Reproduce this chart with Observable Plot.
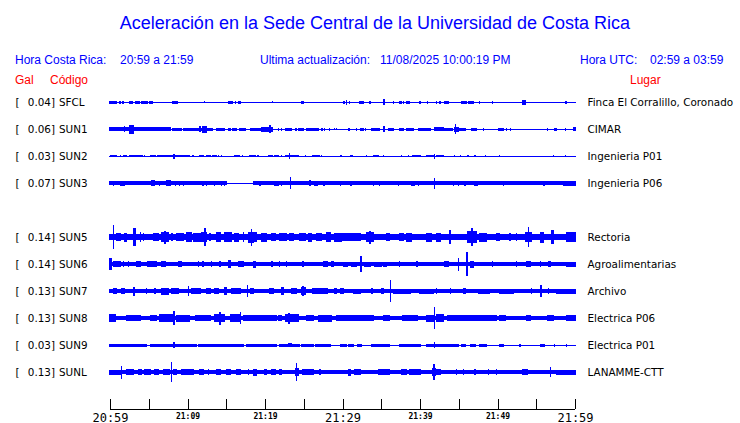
<!DOCTYPE html>
<html><head><meta charset="utf-8">
<script src="https://cdn.jsdelivr.net/npm/d3@7"></script>
<script src="https://cdn.jsdelivr.net/npm/@observablehq/plot@0.6"></script>
<style>
body{margin:0;background:#fff;}
#wrap{position:relative;width:740px;height:423px;overflow:hidden;font-family:"Liberation Sans",Arial,sans-serif;}
.t{position:absolute;white-space:nowrap;line-height:1;}
.b{color:#0000ff;font-size:12px;top:54px;}
.r{color:#ff0000;font-size:12px;top:74px;}
#chart{position:absolute;left:0;top:88px;}
</style></head><body><div id="wrap">
<div class="t" style="left:0;width:750px;text-align:center;top:14px;font-size:18px;color:#0000ff">Aceleración en la Sede Central de la Universidad de Costa Rica</div>
<div class="t b" style="left:15px">Hora Costa Rica:</div>
<div class="t b" style="left:120px">20:59 a 21:59</div>
<div class="t b" style="left:260px">Ultima actualización:</div>
<div class="t b" style="left:380px">11/08/2025 10:00:19 PM</div>
<div class="t b" style="left:580px">Hora UTC:</div>
<div class="t b" style="left:650px">02:59 a 03:59</div>
<div class="t r" style="left:15px">Gal</div>
<div class="t r" style="left:50px">Código</div>
<div class="t r" style="left:630px">Lugar</div>
<div id="chart"></div>
</div>
<script>
// ---- data ----
const codes  = ["SFCL","SUN1","SUN2","SUN3","SUN5","SUN6","SUN7","SUN8","SUN9","SUNL"];
const slots  = [0,1,2,3,5,6,7,8,9,10];   // display slot (slot 4 = SUN4, not shown)
const gal    = [0.04,0.06,0.03,0.07,0.14,0.14,0.13,0.13,0.03,0.13];
const places = ["Finca El Corralillo, Coronado","CIMAR","Ingenieria P01","Ingenieria P06","Rectoria","Agroalimentarias","Archivo","Electrica P06","Electrica P01","LANAMME-CTT"];
const baseAmp = [0.5,0.5,0.5,0.5,3.3,1.7,1.7,2.3,0.5,1.7];   // background trace half-amplitude
const tickMinutes = [0,5,10,15,20,25,30,35,40,45,50,55,60];
const labelMinutes = [0,10,20,30,40,50,60];
const tickLabels = ["20:59","21:09","21:19","21:29","21:39","21:49","21:59"];
const majorLabel = [true,false,false,true,false,false,true];

// bursts: [start minute, end minute, half-amplitude]
const burstsSFCL = [[0,0.86,1.5],[1.2,1.38,1.5],[1.64,1.72,1.5],[2.49,2.67,1.5],[2.8,2.93,1.5],[3.35,3.78,1.5],[4.09,4.86,1.5],[5.16,5.51,1.5],[8.09,8.39,1.5],[8.65,8.65,1.5],[12.17,12.17,1],[15.35,15.48,1.5],[15.74,15.74,1.5],[16.17,16.17,1.5],[16.6,16.86,1.5],[20.94,20.94,1],[24.7,24.94,1.5],[30.1,30.23,1.5],[30.54,30.54,2.5],[30.88,30.88,1.5],[32.17,32.68,1.5],[33.55,33.55,1.5],[35.35,35.4,3],[36.55,36.55,1.5],[37.33,37.55,1.5],[37.85,37.85,1.5],[38.28,38.58,1.5],[40,40,1.5],[40.94,40.94,1.5],[42.15,42.15,1.5],[42.58,42.58,1.5],[43.14,43.65,1.5],[45.38,46.03,1.5],[46.23,46.88,1.5],[47.65,47.65,1.5],[49.38,49.38,1.5],[53.2,53.3,2.5],[53.5,53.6,2.5],[58.84,58.84,1.5]];
const burstsSUN1 = [[0,7.74,1.7],[1.85,1.85,3.3],[2.5,3.0,4.5],[8.1,9.25,1.5],[9.46,10.75,1.5],[10.9,13.25,1.5],[11.6,11.6,3],[11.96,12.4,3.5],[13.7,14.0,1.5],[14.2,14.7,1.5],[15.3,15.5,1.5],[15.8,16.3,1.5],[16.7,17.5,1.5],[18.1,18.6,1.5],[18.75,19.5,1.5],[19.6,20.2,2.5],[20.2,21.0,2.5],[20.6,20.7,4],[21.7,21.7,1.5],[22.15,22.15,1.5],[22.7,23.4,1.5],[23.9,24.1,1.5],[24.3,24.7,1.5],[24.9,24.9,1.5],[25.4,26.9,1.5],[27.3,27.4,1.5],[27.7,27.7,1.5],[28.3,28.3,1.5],[29.0,29.0,1],[29.2,29.2,1],[30.75,30.9,1.5],[31.8,31.8,1.5],[32.3,32.7,1.5],[33.0,33.0,1.5],[33.8,34.0,1.5],[34.2,34.8,1.5],[35.35,35.45,3],[35.9,36.6,1.5],[37.4,37.8,1.5],[38.3,39.1,1.5],[39.8,41.3,1.5],[41.85,43.0,1.7],[43.2,44.2,1.5],[44.4,45.0,2.5],[44.6,44.6,5],[45.0,45.9,1.5],[46.7,47.3,1.5],[48.2,48.2,1.5],[50.2,50.7,1.5],[51.2,51.2,1.5],[51.7,51.7,1.5],[56.4,56.4,1.5],[57.4,57.6,1.5],[58.8,58.8,1.5],[59.8,60,2]];
const burstsSUN2 = [[0.13,0.77,1.3],[1.4,1.4,1.3],[1.8,2.15,1.3],[2.5,2.9,1.3],[3.1,3.35,1.3],[3.5,4.2,1.3],[4.4,4.4,1.3],[5.2,5.8,1.3],[6.2,6.45,1.3],[6.7,7.0,1.3],[7.2,9.8,1.3],[8.26,8.26,2.5],[10.0,10.3,1.3],[10.7,10.7,1.3],[11.6,12.1,1.3],[12.4,12.4,1.3],[12.6,12.9,1.3],[13.25,13.7,1.3],[14.0,14.0,1.3],[14.4,14.4,1],[16.1,16.7,1.3],[17.1,17.1,1.3],[18.0,18.7,1.3],[19.1,19.1,1.3],[20.4,20.9,1.3],[21.3,21.7,1.3],[22.15,22.15,1.3],[22.6,24.3,1.3],[23.2,23.2,3],[25.2,25.2,1.3],[26.2,27.0,1.3],[27.3,27.3,1.3],[29.7,29.9,1.3],[31.0,31.3,1.3],[33.1,33.1,1.3],[34.0,34.6,1.3],[35.3,35.3,1.3],[37.6,37.6,1.3],[38.5,38.5,1.3],[39.0,40.0,1.3],[40.9,41.9,1.3],[41.9,41.9,2.5],[42.1,43.0,1.3],[44.5,44.5,1.3],[45.2,45.2,1.3],[46.2,46.2,1.3],[47.1,47.1,1.3],[48.4,48.4,1.3],[50.3,50.3,1.3],[57.2,57.2,1],[58.8,58.8,1]];
const burstsSUN3 = [[0,15.05,1.7],[18.5,60,1.7],[0.43,0.43,2.5],[1.4,1.9,2.5],[2.8,3.8,2.3],[5.4,5.7,3],[6.4,6.4,2.5],[7.3,7.8,2.7],[8.4,8.4,2.5],[9.0,9.0,2.5],[9.5,9.5,2.5],[12.0,12.0,2.5],[12.5,12.5,2.5],[13.5,13.5,2.5],[14.4,14.4,2.5],[14.8,14.8,2.5],[19.35,19.35,2.5],[21.3,21.7,2.5],[22.15,22.15,2.5],[22.9,23.7,2.3],[23.3,23.3,6],[25.8,25.8,3],[26.45,26.7,2.5],[27.6,27.6,2.5],[29.7,29.7,2.5],[31.05,31.2,2.5],[34.0,34.0,2.5],[34.8,34.8,2.5],[37.2,37.2,2.5],[38.9,39.3,2.5],[39.8,39.8,2.5],[40.8,41.5,2.3],[41.9,41.9,5.5],[42.1,43.4,2.2],[44.3,44.3,2.5],[45.0,45.0,2.5],[45.8,45.8,2.5],[47.1,47.4,2.5],[50.8,50.8,2.5],[56.0,56.0,2.5],[57.2,58.3,2],[58.5,60,2.5]];
const burstsSUN5 = [[0.43,0.43,12],[0.86,1.3,4],[1.9,2.15,4.5],[3.0,3.3,9],[3.9,3.9,5],[4.3,4.3,4],[5.6,6.2,4],[6.7,7.5,5],[7.0,7.1,6.5],[8.0,8.0,4],[8.6,9.5,4.3],[9.9,10.5,5],[10.75,11.6,4.5],[11.8,12.5,5],[12.26,12.26,9],[12.9,12.9,4],[13.8,14.2,5],[14.8,15.7,5],[16.1,16.6,4.5],[17.2,17.2,5],[17.85,18.5,5.5],[18.3,18.3,8.5],[18.7,18.9,5],[19.6,20.2,4.5],[20.9,21.3,4],[21.9,22.8,4],[23.2,23.7,4],[24.5,25.2,4],[25.6,26.0,4.5],[26.7,27.3,4],[28.0,28.4,5],[29.0,29.9,4.5],[29.9,32.3,3.7],[33.1,34.0,5],[33.5,33.6,6.5],[35.7,36.1,4],[37.4,37.8,4],[38.3,38.9,4.5],[40.9,41.5,4.5],[42.1,42.6,4.5],[43.8,43.9,7],[46.2,47.3,6],[46.6,46.7,9],[47.7,48.6,4.5],[49.9,50.3,4],[51.6,51.6,4],[52.5,52.5,4],[53.6,54.4,5],[54.0,54.0,10],[55.5,55.9,5.5],[57.0,57.2,7],[58.9,60,5]];
const burstsSUN6 = [[0,0.2,6],[0.4,1.3,3],[1.7,1.7,3],[2.4,2.4,3],[3.4,3.9,3],[4.9,6.0,3],[6.7,7.1,3],[8.8,9.25,3],[11.4,11.4,3],[12.0,12.0,3],[13.1,13.1,3],[14.2,14.2,3],[15.3,15.5,4],[16.6,17.2,3],[18.5,18.7,3.5],[20.9,20.9,3],[21.9,21.9,3],[22.8,22.8,3],[24.9,24.9,3],[27.5,28.0,3],[28.6,28.8,3],[30.1,30.6,2.5],[31.2,31.8,2.5],[32.35,32.4,8],[32.9,33.6,2.5],[34.2,35.0,2.5],[35.3,35.7,2.5],[37.4,37.4,3],[39.6,39.6,3],[43.2,43.7,3],[45.0,45.0,6.5],[46.05,46.1,12],[46.5,46.9,3.5],[49.4,49.4,3],[52.5,52.5,3],[53.8,54.2,3],[55.5,55.5,3],[56.6,56.8,3],[58.9,60,2.5]];
const burstsSUN7 = [[0.4,0.86,3],[1.5,1.9,3],[3.0,3.2,4.5],[4.7,4.7,3],[5.8,5.8,3],[6.7,7.5,3.5],[8.0,8.8,3],[10.1,10.1,5],[10.5,11.6,3],[12.5,12.9,3],[13.5,14.0,3],[14.8,15.05,4],[15.7,16.8,3],[17.7,17.7,6],[18.1,18.5,3],[20.6,21.1,3],[22.15,22.4,4],[23.4,24.1,3],[24.7,25.2,4],[24.9,24.9,5],[26.2,28.0,3],[29.0,29.2,3],[29.7,30.1,3],[31.4,32.3,2.5],[33.8,33.8,3],[35.1,35.3,3],[36.15,36.2,11],[36.6,38.7,2.5],[39.9,41.7,2.5],[42.1,42.1,3],[43.9,43.9,3],[45.6,45.8,3],[47.5,49.0,2.5],[50.3,52.0,2.5],[54.4,54.4,3],[55.6,55.6,6],[56.6,56.6,3],[57.6,60,2.5]];
const burstsSUN8 = [[0,0.65,4],[2.15,3.9,3],[5.2,6.0,3],[6.45,8.0,4],[8.26,8.26,7],[8.6,10.3,3.5],[11.0,12.9,3],[13.5,14.8,4],[14.2,14.2,6.5],[15.5,16.8,4],[16.8,16.8,6],[17.2,21.5,3],[21.7,22.15,3],[22.6,24.3,4],[23.0,23.1,5.5],[25.4,26.2,3.3],[26.9,28.6,3.5],[29.2,34.0,3],[35.3,36.1,3],[37.8,39.6,3],[40.9,41.9,3.5],[41.9,41.9,11],[42.1,43.0,4],[43.5,49.9,3],[50.3,51.0,3.3],[53.8,54.2,3],[56.4,57.2,3],[58.9,60,3]];
const burstsSUN9 = [[0,4.7,1.5],[5.2,6.2,1.5],[6.45,11.2,1.5],[8.26,8.26,3],[11.4,17.2,1.5],[17.6,21.5,1.5],[21.9,24.5,1.5],[23.0,23.4,2.2],[24.7,26.2,1.5],[26.5,28.4,1.5],[29.7,30.5,1.5],[30.8,31.4,1.5],[32.0,32.5,1.5],[33.8,36.1,1.5],[37.4,40.0,1.5],[40.9,44.9,1.5],[41.9,41.9,3],[45.4,45.8,1.5],[46.5,47.1,1.5],[47.7,48.6,1.5],[50.3,50.7,1.5],[52.9,52.9,1.5],[55.5,56.1,1.5],[57.4,57.4,1.5],[58.9,58.9,1.5]];
const burstsSUNL = [[0,1.3,2.5],[1.5,1.5,6.5],[2.15,3.0,3],[3.65,4.1,3],[4.5,5.2,3],[5.8,6.2,3],[6.9,7.7,3],[7.9,7.9,10],[8.2,8.6,3],[9.25,10.75,3],[11.6,12.0,3],[12.7,12.7,3],[13.8,14.2,3],[15.05,15.5,3],[16.3,16.8,3],[17.85,17.85,3],[18.5,18.9,3.5],[20.0,20.2,3],[20.9,21.3,3],[21.9,22.15,3],[23.9,24.3,4],[24.1,24.1,9],[24.9,26.2,3],[27.1,27.1,3],[30.75,31.0,3.5],[31.6,32.3,3],[34.6,36.1,3],[37.6,38.3,3],[38.7,40.0,3],[41.6,42.0,4],[41.8,41.8,8],[42.1,42.6,3],[44.7,44.7,3],[45.6,45.6,3],[47.1,47.1,3],[48.8,48.8,3],[49.9,49.9,3],[53.3,53.8,3],[56.8,56.8,5],[57.6,60,2.5]];
const burstLists = [burstsSFCL,burstsSUN1,burstsSUN2,burstsSUN3,burstsSUN5,burstsSUN6,burstsSUN7,burstsSUN8,burstsSUN9,burstsSUNL];

// ---- build tables ----
const SP = 27; // trace offset between slots (amplitude units)
const stations = codes.map((c,i) => ({code: c, slot: slots[i], gal: gal[i], place: places[i], y: slots[i]*SP}));
const segs = [];
stations.forEach((s,i) => {
  segs.push({t0: 0, t1: 60, amp: baseAmp[i], y: s.y});
  burstLists[i].forEach(([a,b,amp]) => segs.push({t0: a, t1: b, amp, y: s.y}));
});
const yDom = [-14, 307];
const labels = labelMinutes.map((m,i) => ({m, text: tickLabels[i], major: majorLabel[i]}));
const BLUE = "#0000ff";

const chart = Plot.plot({
  width: 740, height: 335,
  marginLeft: 110, marginRight: 165, marginTop: 0, marginBottom: 14,
  x: {domain: [0, 60], axis: null},
  y: {domain: yDom, reverse: true, axis: null},
  style: {background: "transparent", overflow: "visible", shapeRendering: "crispEdges"},
  marks: [
    Plot.ruleY(stations, {y: "y", x1: 0, x2: 60, stroke: BLUE, strokeWidth: 1}),
    Plot.rect(segs, {x1: "t0", x2: "t1", y1: d => d.y - d.amp, y2: d => d.y + d.amp, fill: BLUE, insetLeft: -0.6, insetRight: -0.6}),
    // axis
    Plot.ruleY([yDom[1]], {x1: 0, x2: 60, stroke: "black", dy: -0.5}),
    Plot.ruleX(tickMinutes, {x: d => d, y1: yDom[1], y2: yDom[1], insetTop: -10, stroke: "black"}),
    Plot.text(labels.filter(d => d.major), {x: "m", y: yDom[1], text: "text", lineAnchor: "bottom", dy: 12, fontFamily: "DejaVu Sans Mono", fontSize: 12, fill: "black"}),
    Plot.text(labels.filter(d => !d.major), {x: "m", y: yDom[1], text: "text", lineAnchor: "bottom", dy: 9, fontFamily: "DejaVu Sans Mono", fontWeight: "bold", fontSize: 8, fill: "black"}),
    // station labels
    Plot.text(stations, {frameAnchor: "left", y: "y", text: () => "[", dx: -95, textAnchor: "start", fontFamily: "DejaVu Sans", fontSize: 10.4, fill: "black"}),
    Plot.text(stations, {frameAnchor: "left", y: "y", text: d => d.gal.toFixed(2) + "]", dx: -55.5, textAnchor: "end", fontFamily: "DejaVu Sans", fontSize: 10.4, fill: "black"}),
    Plot.text(stations, {frameAnchor: "left", y: "y", text: "code", dx: -51.5, textAnchor: "start", fontFamily: "DejaVu Sans", fontSize: 10.4, fill: "black"}),
    Plot.text(stations, {frameAnchor: "right", y: "y", text: "place", dx: 12, textAnchor: "start", fontFamily: "DejaVu Sans", fontSize: 10.4, fill: "black"})
  ]
});
document.getElementById("chart").appendChild(chart);
</script>
</body></html>
